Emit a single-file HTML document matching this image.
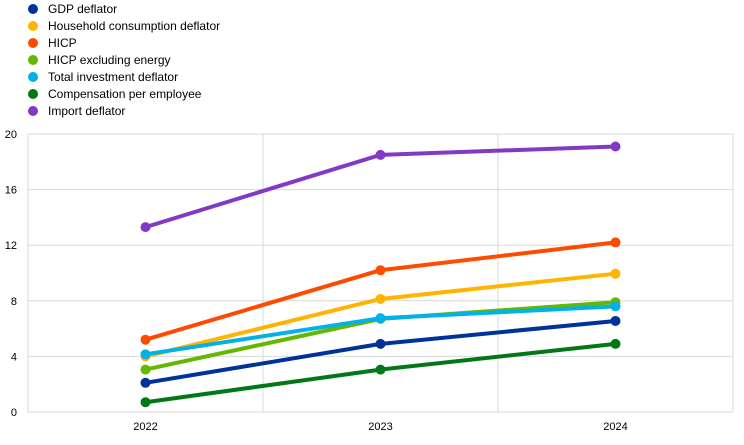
<!DOCTYPE html>
<html><head><meta charset="utf-8"><style>
body{margin:0;background:#fff;font-family:"Liberation Sans",Arial,sans-serif;}
svg text{font-family:"Liberation Sans",Arial,sans-serif;}
</style></head><body>
<svg id="chart" width="744" height="440" xmlns="http://www.w3.org/2000/svg"></svg>
<script>
const categories = ["2022","2023","2024"];
const yTicks = [0,4,8,12,16,20];
const seriesNames = ["GDP deflator","Household consumption deflator","HICP","HICP excluding energy","Total investment deflator","Compensation per employee","Import deflator"];
const gdpDeflator = [2.1,4.9,6.55];
const householdDeflator = [4.0,8.13,9.95];
const hicp = [5.2,10.2,12.2];
const hicpExEnergy = [3.05,6.7,7.9];
const investmentDeflator = [4.15,6.75,7.6];
const compensation = [0.7,3.05,4.9];
const importDeflator = [13.3,18.5,19.1];
const seriesValues = [gdpDeflator,householdDeflator,hicp,hicpExEnergy,investmentDeflator,compensation,importDeflator];
const colors = ["#003299","#ffb400","#ff4b00","#65b800","#00b1ea","#007816","#8139c6"];
const svgNS="http://www.w3.org/2000/svg";
const svg=document.getElementById('chart');
const plotLeft=28,plotRight=733,plotTop=134,plotBottom=412;
const band=(plotRight-plotLeft)/categories.length;
const xPos=i=>plotLeft+band*(i+0.5);
const yPos=v=>plotBottom-(v/20)*(plotBottom-plotTop);
function mk(t,a){const e=document.createElementNS(svgNS,t);for(const k in a)e.setAttribute(k,a[k]);svg.appendChild(e);return e;}
yTicks.forEach(t=>{
 const l=mk('line',{x1:plotLeft,x2:plotRight,y1:yPos(t),y2:yPos(t),stroke:'#d9d9d9','stroke-width':1});
 
 
 const tx=mk('text',{x:17,y:yPos(t)+4,'text-anchor':'end','font-size':11,fill:'#000'});
 tx.textContent=t;
 
 
});
for(let i=0;i<=categories.length;i++){
 const l=mk('line',{x1:plotLeft+band*i,x2:plotLeft+band*i,y1:plotTop,y2:plotBottom,stroke:'#d9d9d9','stroke-width':1});
 
 
}
categories.forEach((c,i)=>{
 const tx=mk('text',{x:xPos(i),y:430,'text-anchor':'middle','font-size':11,fill:'#000'});
 tx.textContent=c;
 
 
});
seriesValues.forEach((vals,s)=>{
 const p=mk('polyline',{points:vals.map((v,i)=>xPos(i)+','+yPos(v)).join(' '),fill:'none',stroke:colors[s],'stroke-width':4,'stroke-linejoin':'round'});
 
 
 vals.forEach((v,i)=>{
  const c=mk('circle',{cx:xPos(i),cy:yPos(v),r:5,fill:colors[s]});
  
  
 });
});
seriesNames.forEach((n,s)=>{
 const yy=9+s*17;
 const c=mk('circle',{cx:33,cy:yy,r:5,fill:colors[s]});
 
 
 const tx=mk('text',{x:48,y:yy+4,'font-size':12,fill:'#000'});
 tx.textContent=n;
 
 
});
</script>
</body></html>
